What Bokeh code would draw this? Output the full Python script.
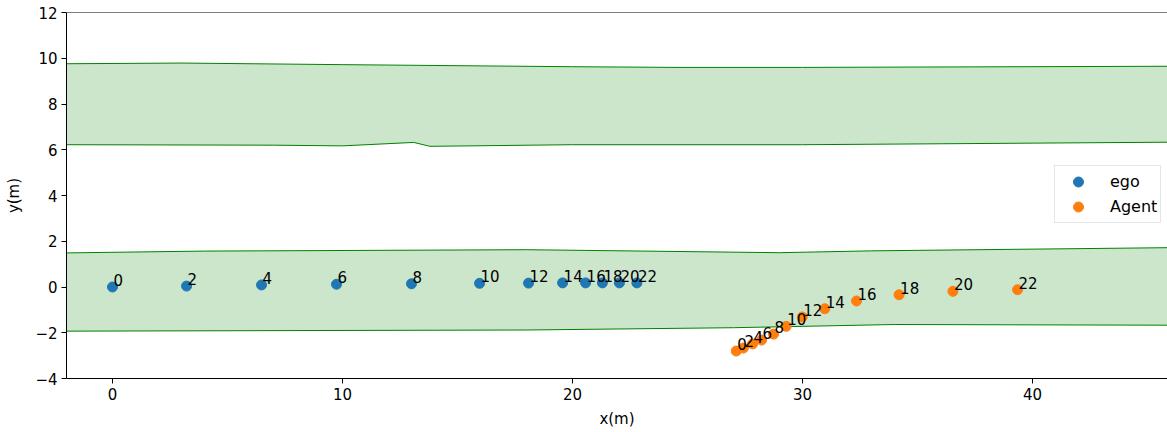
from bokeh.plotting import figure
from bokeh.models import Range1d, FixedTicker, Legend, LegendItem, Span
from bokeh.core.properties import value
from bokeh.embed import file_html
from bokeh.resources import INLINE

# ---- data ----
ego_x = [0.0, 3.22, 6.48, 9.74, 13.0, 15.96, 18.09, 19.57, 20.57, 21.3, 22.04, 22.8]
ego_y = [0.0, 0.04, 0.09, 0.12, 0.14, 0.16, 0.17, 0.18, 0.18, 0.18, 0.18, 0.18]
agent_x = [27.12, 27.43, 27.83, 28.22, 28.74, 29.29, 29.99, 30.97, 32.35, 34.2, 36.54, 39.35]
agent_y = [-2.8, -2.67, -2.49, -2.32, -2.06, -1.72, -1.31, -0.95, -0.61, -0.34, -0.19, -0.12]
step_labels = ["0", "2", "4", "6", "8", "10", "12", "14", "16", "18", "20", "22"]

# lane boundaries
up_top_x = [-2, 3, 10, 20, 24.5, 30, 46]
up_top_y = [9.76, 9.79, 9.72, 9.63, 9.6, 9.6, 9.65]
up_bot_x = [-2, 7, 10, 13.1, 13.8, 20, 30, 46]
up_bot_y = [6.22, 6.2, 6.17, 6.32, 6.15, 6.22, 6.22, 6.33]
lo_top_x = [-2, 4, 18, 29, 33, 46]
lo_top_y = [1.49, 1.57, 1.63, 1.5, 1.58, 1.72]
lo_bot_x = [-2, 18, 27, 34, 46]
lo_bot_y = [-1.93, -1.88, -1.78, -1.64, -1.67]

x_ticks = [0, 10, 20, 30, 40]
y_ticks = [-4, -2, 0, 2, 4, 6, 8, 10, 12]

FONT = "DejaVu Sans"
FS = "15px"

p = figure(width=1167, height=430, output_backend="svg", toolbar_location=None,
           x_range=Range1d(-2.0, 45.87), y_range=Range1d(-4, 12),
           min_border_left=66, min_border_top=12, min_border_right=0, min_border_bottom=52)
p.outline_line_color = None
p.xgrid.visible = False
p.ygrid.visible = False
p.background_fill_color = "white"

# lanes
for tx, ty, bx, by in [(up_top_x, up_top_y, up_bot_x, up_bot_y),
                       (lo_top_x, lo_top_y, lo_bot_x, lo_bot_y)]:
    px = list(tx) + list(bx)[::-1]
    py = list(ty) + list(by)[::-1]
    p.patch(px, py, fill_color="green", fill_alpha=0.2, line_color=None)
    p.line(tx, ty, line_color="green", line_width=1)
    p.line(bx, by, line_color="green", line_width=1)

r_ego = p.scatter(ego_x, ego_y, size=10, fill_color="#1f77b4", line_color="#1f77b4")
r_ag = p.scatter(agent_x, agent_y, size=10, fill_color="#ff7f0e", line_color="#ff7f0e")

for xs, ys in [(ego_x, ego_y), (agent_x, agent_y)]:
    p.text(xs, ys, text=step_labels, text_font=value(FONT), text_font_size=FS,
           text_align="left", text_baseline="bottom", y_offset=-1, x_offset=1,
           text_color="black")

# top spine
p.add_layout(Span(location=12, dimension="width", line_color="black", line_width=1))

for ax in (p.xaxis[0], p.yaxis[0]):
    ax.axis_line_color = "black"
    ax.major_tick_line_color = "black"
    ax.major_tick_out = 5
    ax.major_tick_in = 0
    ax.minor_tick_line_color = None
    ax.major_label_text_font = FONT
    ax.major_label_text_font_size = FS
    ax.major_label_text_color = "black"
    ax.major_label_standoff = 4
    ax.axis_label_text_font = FONT
    ax.axis_label_text_font_size = FS
    ax.axis_label_text_font_style = "normal"
    ax.axis_label_text_color = "black"

p.xaxis[0].ticker = FixedTicker(ticks=x_ticks)
p.yaxis[0].ticker = FixedTicker(ticks=y_ticks)
p.yaxis[0].major_label_overrides = {t: (str(t).replace("-", "\u2212")) for t in y_ticks}
p.xaxis[0].axis_label = "x(m)"
p.yaxis[0].axis_label = "y(m)"
p.xaxis[0].axis_label_standoff = 7
p.yaxis[0].axis_label_standoff = 9

legend = Legend(items=[LegendItem(label="ego", renderers=[r_ego]),
                       LegendItem(label="Agent", renderers=[r_ag])],
                location=(988, 155), padding=3, margin=0, spacing=0,
                glyph_width=40, glyph_height=25, label_height=25, label_standoff=12,
                label_text_font=FONT, label_text_font_size="16px", label_text_color="black",
                border_line_color="#cccccc", border_line_width=1,
                background_fill_alpha=0.8)
p.add_layout(legend)

open("out.html", "w").write(file_html(p, INLINE))
